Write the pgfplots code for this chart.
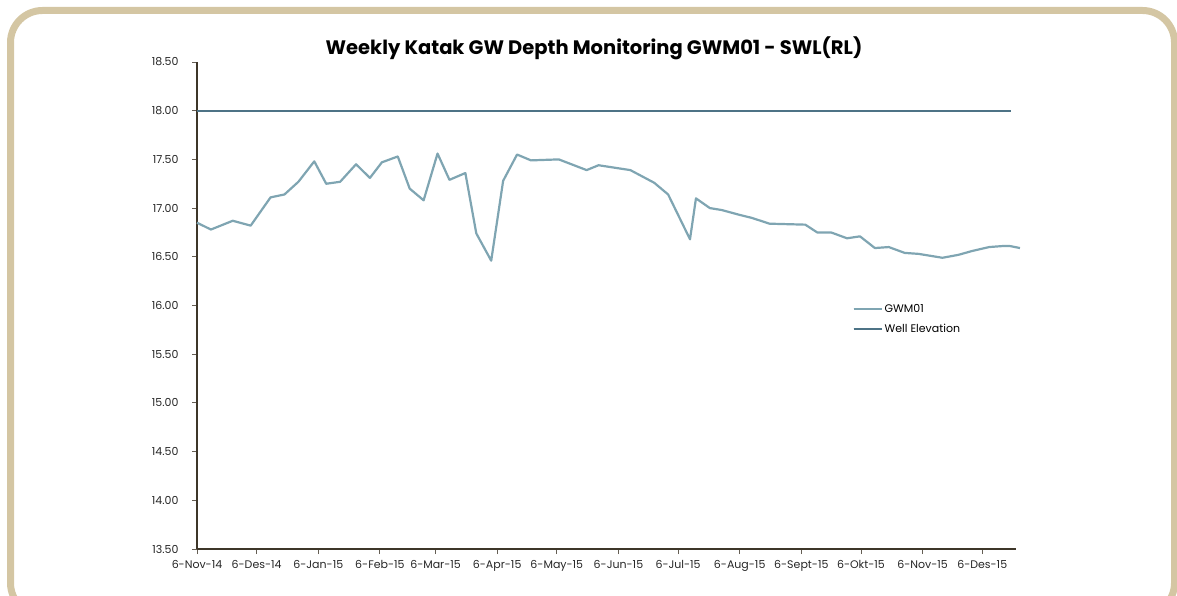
\documentclass[border=0pt]{standalone}
\usepackage{pgfplots}
\pgfplotsset{compat=1.18}
\usepackage{fontspec}
\setmainfont{Poppins}
\definecolor{gwm}{HTML}{7FA5B2}
\definecolor{well}{HTML}{4D7386}
\definecolor{frame}{HTML}{D4C6A3}
\definecolor{axl}{HTML}{3E3629}
\begin{document}
\begin{tikzpicture}[x=1pt,y=1pt]
\clip (0,0) rectangle (1177,595);
\draw[frame, line width=7pt, rounded corners=32pt] (10.5,-20) rectangle (1174.5,584.5);
\node[anchor=base, font=\fontsize{19.5}{22}\selectfont\bfseries] at (594,540) {Weekly Katak GW Depth Monitoring GWM01 - SWL(RL)};
\begin{axis}[
  at={(197pt,46pt)}, anchor=south west,
  scale only axis, width=819pt, height=487pt,
  xmin=0, xmax=412, ymin=13.5, ymax=18.5,
  clip=false,
  axis x line*=bottom, axis y line*=left,
  axis line style={axl, line width=1.1pt, -},
  xtick={0,30,61,92,120,151,181,212,242,273,304,334,365,395},
  xticklabels={6-Nov-14,6-Des-14,6-Jan-15,6-Feb-15,6-Mar-15,6-Apr-15,6-May-15,6-Jun-15,6-Jul-15,6-Aug-15,6-Sept-15,6-Okt-15,6-Nov-15,6-Des-15},
  ytick={13.5,14,14.5,15,15.5,16,16.5,17,17.5,18,18.5},
  yticklabel style={/pgf/number format/fixed, /pgf/number format/fixed zerofill, /pgf/number format/precision=2, xshift=-10pt},
  /pgf/number format/assume math mode=true,
  tick align=outside, major tick length=5pt,
  tick style={axl!80, line width=0.9pt},
  ticklabel style={font=\fontsize{11}{13}\selectfont, text=black!85},
  xticklabel style={yshift=-3pt},
  legend style={at={(rel axis cs:0.80,0.507)}, anchor=north west, draw=none, fill=none,
    font=\fontsize{11}{13}\selectfont, row sep=6pt, inner sep=0pt},
  legend cell align=left,
  legend image code/.code={\draw[#1, line width=1.3pt] (0pt,0pt) -- (17pt,0pt); \path (0pt,0pt) -- (28pt,0pt);},
]
\addplot[gwm, line width=2.2pt, line join=round] coordinates {
(0,16.85) (7,16.78) (18,16.87) (27,16.82) (37,17.11) (44,17.14) (51,17.27) (59,17.48)
(65,17.25) (72,17.27) (80,17.45) (87,17.31) (93,17.47) (101,17.53) (107,17.20) (114,17.08)
(121,17.56) (127,17.29) (135,17.36) (140.5,16.74) (148,16.46) (154,17.28) (161,17.55) (168,17.49)
(182,17.50) (196,17.39) (202,17.44) (218,17.39) (230,17.26) (237,17.14) (248,16.68) (251,17.10)
(258,17.00) (264,16.98) (273,16.93) (279,16.90) (288,16.84) (306,16.83) (312,16.75) (319,16.75)
(327,16.69) (333.5,16.71) (341,16.59) (348,16.60) (356,16.54) (363,16.53) (375,16.49) (383,16.52)
(390,16.56) (398.5,16.60) (405,16.61) (409,16.61) (414,16.59)
};
\addlegendentry{GWM01}
\addplot[well, line width=2.2pt] coordinates {(0,18) (409.5,18)};
\addlegendentry{Well Elevation}
\end{axis}
\end{tikzpicture}
\end{document}
